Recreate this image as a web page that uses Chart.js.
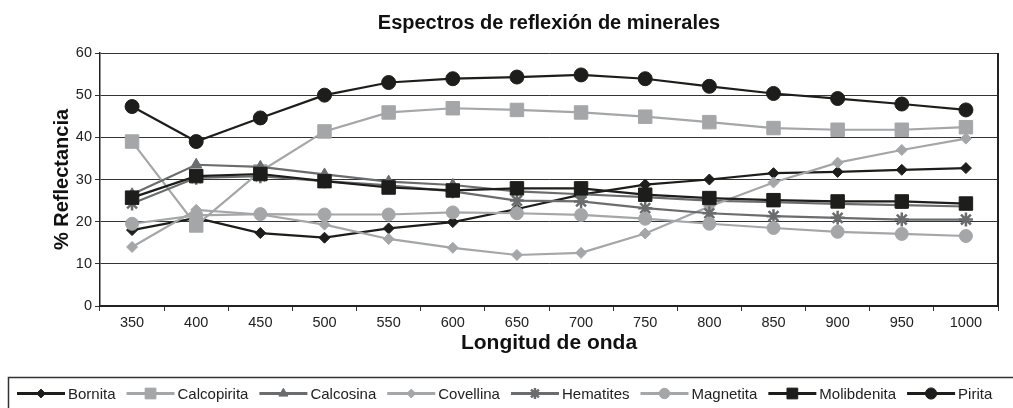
<!DOCTYPE html>
<html>
<head>
<meta charset="utf-8">
<script src="https://cdn.jsdelivr.net/npm/chart.js@4.4.1/dist/chart.umd.min.js"></script>
<style>
  html, body { margin: 0; padding: 0; background: #fff; }
  #wrap { width: 1013px; height: 408px; }
</style>
</head>
<body>
<div id="wrap"><canvas id="reflexChart"></canvas></div>
<script>
// longitudes de onda (nm)
const wavelengths = ['350', '400', '450', '500', '550', '600', '650', '700', '750', '800', '850', '900', '950', '1000'];

// % reflectancia por mineral
const bornita     = [18.0, 20.9, 17.3, 16.2, 18.4, 19.9, 23.0, 26.4, 28.8, 30.0, 31.5, 31.8, 32.3, 32.7];
const calcopirita = [39.0, 19.1, 31.9, 41.4, 45.9, 46.9, 46.5, 45.9, 44.9, 43.6, 42.2, 41.8, 41.8, 42.4];
const calcosina   = [26.5, 33.5, 33.0, 31.2, 29.5, 28.7, 27.2, 26.5, 25.8, 25.0, 24.6, 24.2, 23.9, 23.6];
const covellina   = [14.0, 22.8, 21.7, 19.3, 15.9, 13.8, 12.1, 12.6, 17.2, 23.6, 29.3, 34.0, 37.0, 39.7];
const hematites   = [24.3, 30.4, 30.8, 29.6, 28.6, 27.2, 25.0, 24.8, 23.2, 22.0, 21.3, 20.9, 20.5, 20.5];
const magnetita   = [19.5, 21.5, 21.8, 21.7, 21.7, 22.2, 22.0, 21.6, 20.7, 19.5, 18.5, 17.6, 17.1, 16.6];
const molibdenita = [25.7, 30.8, 31.3, 29.6, 28.1, 27.4, 27.9, 27.9, 26.4, 25.6, 25.1, 24.8, 24.8, 24.3];
const pirita      = [47.3, 39.0, 44.6, 50.0, 53.0, 53.9, 54.3, 54.8, 53.9, 52.1, 50.4, 49.2, 47.9, 46.5];

const yTicks = [0, 10, 20, 30, 40, 50, 60];

const BLACK = '#1d1d1b';
const LIGHT = '#a5a6a8';
const DARK = '#6b6c6e';
const FONT = '"Liberation Sans", Arial, Helvetica, sans-serif';

Chart.defaults.font.family = FONT;
Chart.defaults.color = '#222';

function series(label, data, color, style, radius, idx, markerBorder) {
  return {
    label: label,
    data: data,
    borderColor: color,
    backgroundColor: color,
    borderWidth: 2.2,
    pointStyle: style,
    pointRadius: radius,
    pointHoverRadius: radius,
    pointBackgroundColor: color,
    pointBorderColor: color,
    pointBorderWidth: markerBorder || 1,
    tension: 0,
    fill: false,
    order: 7 - idx
  };
}

const datasets = [
  series('Bornita', bornita, BLACK, 'rectRot', 5.5, 0),
  series('Calcopirita', calcopirita, LIGHT, 'rect', 9.5, 1),
  series('Calcosina', calcosina, DARK, 'triangle', 6.5, 2),
  series('Covellina', covellina, LIGHT, 'rectRot', 5.5, 3),
  series('Hematites', hematites, DARK, 'star', 7, 4, 2.5),
  series('Magnetita', magnetita, LIGHT, 'circle', 6.5, 5),
  series('Molibdenita', molibdenita, BLACK, 'rect', 9.5, 6),
  series('Pirita', pirita, BLACK, 'circle', 7, 7)
];

// leyenda en caja con línea + marcador, y borde derecho del área
const lineLegend = {
  id: 'lineLegend',
  afterDraw(chart) {
    const { ctx, chartArea } = chart;
    ctx.save();
    ctx.strokeStyle = '#222';
    ctx.lineWidth = 2;
    ctx.beginPath();
    ctx.moveTo(chartArea.right, chartArea.top);
    ctx.lineTo(chartArea.right, chartArea.bottom);
    ctx.stroke();

    ctx.lineWidth = 1.5;
    ctx.strokeStyle = '#333';
    ctx.strokeRect(8.5, 377.5, 1012, 32);

    ctx.font = '15px ' + FONT;
    ctx.textBaseline = 'middle';
    const y = 393.5;
    let x = 17;
    chart.data.datasets.forEach(ds => {
      ctx.strokeStyle = ds.borderColor;
      ctx.lineWidth = 3;
      ctx.beginPath();
      ctx.moveTo(x, y);
      ctx.lineTo(x + 48, y);
      ctx.stroke();
      ctx.fillStyle = ds.pointBackgroundColor;
      ctx.strokeStyle = ds.pointBorderColor;
      ctx.lineWidth = ds.pointBorderWidth;
      Chart.helpers.drawPoint(ctx, {
        pointStyle: ds.pointStyle,
        radius: ds.pointRadius * 0.8,
        borderWidth: ds.pointBorderWidth,
        rotation: 0
      }, x + 24, y);
      ctx.fillStyle = '#222';
      ctx.fillText(ds.label, x + 51, y + 1);
      x += 51 + ctx.measureText(ds.label).width + 11;
    });
    ctx.restore();
  }
};

new Chart(document.getElementById('reflexChart'), {
  type: 'line',
  data: { labels: wavelengths, datasets: datasets },
  plugins: [lineLegend],
  options: {
    responsive: true,
    maintainAspectRatio: false,
    animation: false,
    devicePixelRatio: 1,
    layout: { padding: { top: 0, left: 0, right: 15, bottom: 52 } },
    plugins: {
      legend: { display: false },
      tooltip: { enabled: false },
      title: {
        display: true,
        fullSize: false,
        text: 'Espectros de reflexión de minerales',
        color: '#111',
        font: { size: 20, weight: 'bold' },
        padding: { top: 11, bottom: 18 }
      }
    },
    scales: {
      x: {
        offset: true,
        afterFit(scale) { scale.height = 50; },
        grid: { offset: true, drawOnChartArea: false, tickLength: 5, color: '#333' },
        border: { color: '#222', width: 2 },
        ticks: { font: { size: 14.5 }, color: '#222', padding: 3, autoSkip: false, maxRotation: 0 },
        title: {
          display: true,
          text: 'Longitud de onda',
          color: '#111',
          font: { size: 21, weight: 'bold' },
          padding: { top: 0, bottom: 0 }
        }
      },
      y: {
        min: 0,
        max: 60,
        afterFit(scale) { scale.width = 100; },
        afterBuildTicks(scale) { scale.ticks = yTicks.map(v => ({ value: v })); },
        grid: { color: '#333', lineWidth: 1, tickLength: 5 },
        border: { color: '#222', width: 1.5 },
        ticks: { font: { size: 14.5 }, color: '#222', padding: 3 },
        title: {
          display: true,
          text: '% Reflectancia',
          color: '#111',
          font: { size: 20, weight: 'bold' },
          padding: { top: 50, bottom: 0 }
        }
      }
    }
  }
});
</script>
</body>
</html>
